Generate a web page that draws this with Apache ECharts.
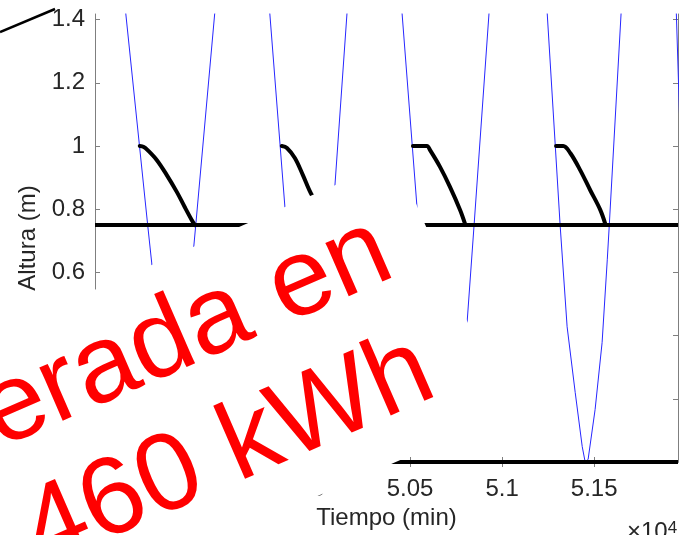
<!DOCTYPE html>
<html>
<head>
<meta charset="utf-8">
<script src="https://cdn.jsdelivr.net/npm/echarts@6/dist/echarts.min.js"></script>
<style>
  html, body { margin: 0; padding: 0; background: #fff; }
  #chart { width: 683px; height: 535px; }
</style>
</head>
<body>
<div id="chart"></div>
<script>
// tiempo en minutos, nivel en metros
const tideTime = [48790, 48957, 49076, 49098, 49150, 49210, 49270, 49326, 49337, 49440,
  49590, 49739, 49821, 49880, 49960, 50040, 50092, 50158,
  50307, 50457, 50538, 50555, 50640, 50700, 50760, 50810, 50848, 50929,
  51087, 51245, 51315, 51353, 51397, 51435, 51451, 51467, 51505, 51543, 51571, 51582, 51646,
  51800, 51946, 51990];
const tideLevel = [2.3, 1.42, 0.75, 0.63, 0.3, 0.06, 0.3, 0.68, 0.75, 1.42,
  2.3, 1.42, 0.807, 0.45, 0.1, 0.45, 0.871, 1.42,
  2.3, 1.42, 0.807, 0.72, 0.25, 0.12, 0.2, 0.441, 0.75, 1.42,
  2.3, 1.42, 0.75, 0.428, 0.22, 0.049, 0, 0.008, 0.166, 0.378, 0.64, 0.75, 1.42,
  2.3, 1.42, 0.6];

// nivel del embalse (null = corte de la linea)
const basinTime = [49033, 49055, 49076, 49125, 49179, 49234, 49277, 49315, 49332, 49500,
  49804, 49832, 49875, 49918, 49967, 50022, 50082, 50300,
  50516, 50592, 50609, 50663, 50717, 50772, 50799, 51000,
  51293, 51332, 51370, 51424, 51478, 51533, 51560];
const basinLevel = [1.0, 0.997, 0.987, 0.956, 0.909, 0.855, 0.807, 0.766, 0.75, null,
  1.0, 0.994, 0.962, 0.909, 0.845, 0.80, 0.75, null,
  1.0, 1.0, 0.987, 0.934, 0.871, 0.798, 0.754, null,
  1.0, 1.0, 0.978, 0.924, 0.861, 0.798, 0.754];

const minLevelTime = [48790, 51955];
const minLevel = [0.75, 0.75];
const zeroLevel = [0, 0];

const xTicks = [49000, 49500, 50000, 50500, 51000, 51500];
const yTicks = [0, 0.2, 0.4, 0.6, 0.8, 1, 1.2, 1.4];
const xMin = 48790, xMax = 51955;
const yMin = 0, yMax = 1.418;

const FONT = "'Liberation Sans', Arial, sans-serif";
const axisGray = "#7f7f7f";
const textGray = "#262626";

function pairs(xs, ys) {
  return xs.map((x, i) => [x, ys[i] === null ? "-" : ys[i]]);
}

const chart = echarts.init(document.getElementById("chart"));
const option = {
  animation: false,
  backgroundColor: "#fff",
  textStyle: { fontFamily: FONT },
  grid: { left: 95, right: 5, top: 14, bottom: 72 },
  xAxis: [
    {
      type: "value",
      position: "bottom",
      min: xMin,
      max: xMax,
      name: "Tiempo (min)",
      nameLocation: "middle",
      nameGap: 44,
      nameTextStyle: { fontSize: 24, color: textGray, fontFamily: FONT },
      axisLine: { show: true, lineStyle: { color: axisGray, width: 1 } },
      axisTick: { show: true, inside: true, length: 5, customValues: xTicks, lineStyle: { color: axisGray } },
      axisLabel: {
        customValues: xTicks,
        fontSize: 24,
        color: textGray,
        margin: 15,
        formatter: v => String(+(v / 10000).toFixed(2))
      },
      splitLine: { show: false }
    },
    {
      type: "value",
      position: "top",
      min: xMin,
      max: xMax,
      axisLine: { show: true, lineStyle: { color: axisGray, width: 1 } },
      axisTick: { show: true, inside: true, length: 5, customValues: xTicks, lineStyle: { color: axisGray } },
      axisLabel: { show: false },
      splitLine: { show: false }
    }
  ],
  yAxis: [
    {
      type: "value",
      position: "left",
      min: yMin,
      max: yMax,
      name: "Altura (m)",
      nameLocation: "middle",
      nameGap: 49,
      nameTextStyle: { fontSize: 24, color: textGray, fontFamily: FONT },
      axisLine: { show: true, lineStyle: { color: axisGray, width: 1 } },
      axisTick: { show: true, inside: true, length: 5, customValues: yTicks, lineStyle: { color: axisGray } },
      axisLabel: { customValues: yTicks, fontSize: 24, color: textGray, margin: 10 },
      splitLine: { show: false }
    },
    {
      type: "value",
      position: "right",
      min: yMin,
      max: yMax,
      axisLine: { show: true, lineStyle: { color: axisGray, width: 1 } },
      axisTick: { show: true, inside: true, length: 5, customValues: yTicks, lineStyle: { color: axisGray } },
      axisLabel: { show: false },
      splitLine: { show: false }
    }
  ],
  series: [
    {
      name: "marea",
      type: "line",
      symbol: "none",
      clip: true,
      lineStyle: { color: "#2626ff", width: 1 },
      data: pairs(tideTime, tideLevel)
    },
    {
      name: "nivel minimo",
      type: "line",
      symbol: "none",
      clip: true,
      lineStyle: { color: "#000", width: 4 },
      data: pairs(minLevelTime, minLevel)
    },
    {
      name: "cero",
      type: "line",
      symbol: "none",
      clip: true,
      lineStyle: { color: "#000", width: 4 },
      data: pairs(minLevelTime, zeroLevel)
    },
    {
      name: "embalse",
      type: "line",
      symbol: "none",
      clip: true,
      smooth: 0.35,
      connectNulls: false,
      lineStyle: { color: "#000", width: 4, join: "round", cap: "round" },
      data: pairs(basinTime, basinLevel)
    }
  ],
  graphic: [
    {
      type: "line",
      z: 100,
      shape: { x1: 0, y1: 32, x2: 55, y2: 9 },
      style: { stroke: "#000", lineWidth: 2.5 }
    },
    {
      type: "group",
      x: 401,
      y: 282,
      rotation: 23.5 * Math.PI / 180,
      z: 100,
      children: [
        {
          type: "rect",
          z: 100,
          shape: { x: -900, y: -115, width: 945, height: 278 },
          style: { fill: "#fff" }
        },
        {
          type: "text",
          z: 101,
          x: 0,
          y: -38,
          style: {
            text: "erada en",
            fill: "#ff0000",
            fontSize: 110,
            fontFamily: FONT,
            align: "right",
            verticalAlign: "middle"
          }
        },
        {
          type: "text",
          z: 101,
          x: -9,
          y: 88,
          style: {
            text: "460 kWh",
            fill: "#ff0000",
            fontSize: 110,
            fontFamily: FONT,
            align: "right",
            verticalAlign: "middle"
          }
        }
      ]
    },
    {
      type: "text",
      z: 100,
      x: 627,
      y: 520,
      style: {
        text: "{a|×10}{b|4}",
        rich: {
          a: { fontSize: 24, fill: textGray, fontFamily: FONT, verticalAlign: "bottom" },
          b: { fontSize: 17, fill: textGray, fontFamily: FONT, verticalAlign: "top" }
        },
        verticalAlign: "top"
      }
    }
  ]
};
chart.setOption(option);
window.addEventListener("resize", () => chart.resize(), false);
</script>
</body>
</html>
